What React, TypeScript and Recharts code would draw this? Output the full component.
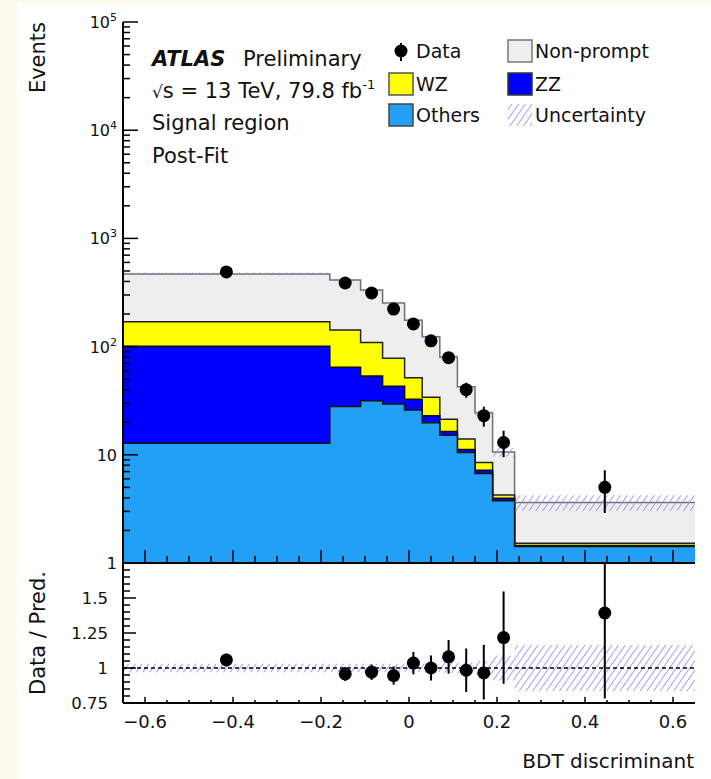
import React from 'react'
import { ComposedChart, Area, Scatter, ErrorBar, XAxis, YAxis, ReferenceLine, Legend } from 'recharts'

// BDT discriminant bin edges
const binEdges = [-0.65, -0.18, -0.11, -0.06, -0.01, 0.03, 0.07, 0.11, 0.15, 0.19, 0.24, 0.65]

// post-fit predictions per bin (events)
const others = [12.8, 28, 31.6, 29.5, 26, 19.8, 15.2, 10.5, 6.7, 3.77, 1.42]
const zz = [88, 36.5, 21.9, 13.5, 6.6, 3.2, 1.2, 0.7, 0.5, 0.19, 0.03]
const wz = [69, 77.5, 55.5, 35, 19, 11, 4.9, 2.8, 1.3, 0.3, 0.07]
const nonPrompt = [300, 270, 224, 175, 124, 89, 59, 28.5, 15.8, 6.35, 2.1]
// relative uncertainty on the total prediction
const uncRel = [0.03, 0.03, 0.03, 0.03, 0.03, 0.03, 0.035, 0.04, 0.05, 0.09, 0.165]

// observed data
const dataX = [-0.415, -0.145, -0.085, -0.035, 0.01, 0.05, 0.09, 0.13, 0.17, 0.215, 0.445]
const dataEvents = [490, 387, 313, 222, 162, 113, 79, 40, 23, 13, 5]
const dataErrDown = [22, 20, 18, 15, 13, 11, 9, 6.3, 4.8, 3.5, 2.1]
const dataErrUp = [22, 20, 18, 15, 13, 11, 9, 6.3, 4.8, 3.7, 2.2]

// data / prediction
const ratio = [1.058, 0.958, 0.97, 0.946, 1.035, 1.0, 1.08, 0.984, 0.965, 1.217, 1.393]
const ratioErrDown = [0.045, 0.05, 0.055, 0.065, 0.08, 0.09, 0.12, 0.155, 0.19, 0.33, 0.61]
const ratioErrUp = [0.045, 0.05, 0.055, 0.065, 0.08, 0.09, 0.12, 0.155, 0.2, 0.33, 0.357]

// axis ticks
const xMajorTicks = [-0.6, -0.4, -0.2, 0, 0.2, 0.4, 0.6]
const xTickLabels = ['−0.6', '−0.4', '−0.2', '0', '0.2', '0.4', '0.6']
const yMajorTicks = [1, 10, 100, 1000, 10000, 100000]
const yTickLabels = [['1', ''], ['10', ''], ['10', '2'], ['10', '3'], ['10', '4'], ['10', '5']]
const ratioMajorTicks = [0.75, 1, 1.25, 1.5]
const ratioTickLabels = ['0.75', '1', '1.25', '1.5']

const COLORS = {
  others: '#21a0f5',
  zz: '#0000ff',
  wz: '#ffff00',
  nonPrompt: '#eeeeee',
  hatch: '#8c8cf5',
}

const legendItems = [
  { name: 'Data', kind: 'marker' },
  { name: 'Non-prompt', kind: 'box', fill: COLORS.nonPrompt, stroke: '#777' },
  { name: 'WZ', kind: 'box', fill: COLORS.wz, stroke: '#555' },
  { name: 'ZZ', kind: 'box', fill: COLORS.zz, stroke: '#333' },
  { name: 'Others', kind: 'box', fill: COLORS.others, stroke: '#444' },
  { name: 'Uncertainty', kind: 'hatch' },
]

// minor ticks
const xAllTicks = Array.from({ length: 25 }, (_, i) => Math.round((-0.6 + i * 0.05) * 100) / 100)
const yAllTicks = [1, 10, 100, 1000, 10000].flatMap(d => [1, 2, 3, 4, 5, 6, 7, 8, 9].map(m => d * m)).concat([100000])
const ratioAllTicks = Array.from({ length: 20 }, (_, i) => Math.round((0.75 + i * 0.05) * 100) / 100)

// histogram rows: one per bin edge, last edge repeats last bin (stepAfter)
const stepRows = binEdges.map((x, i) => {
  const b = Math.min(i, others.length - 1)
  const o = others[b]
  const z = o + zz[b]
  const w = z + wz[b]
  const t = w + nonPrompt[b]
  return {
    x,
    others: o,
    zz: z,
    wz: w,
    total: t,
    band: [t * (1 - uncRel[b]), t * (1 + uncRel[b])],
    ratioBand: [1 - uncRel[b], 1 + uncRel[b]],
  }
})

const dataRows = dataX.map((x, i) => ({ x, y: dataEvents[i], err: [dataErrDown[i], dataErrUp[i]] }))
const ratioRows = dataX.map((x, i) => ({ x, y: ratio[i], err: [ratioErrDown[i], ratioErrUp[i]] }))

type Side = 'bottom' | 'top' | 'left' | 'right'
const near = (a: number, b: number) => Math.abs(a - b) < 1e-6 * Math.max(1, Math.abs(b))

// ROOT-style ticks drawn inside the frame, optional label outside
function frameTick(side: Side, majors: number[], majorLen: number, minorLen: number, label?: (i: number, x: number, y: number) => any) {
  return (props: any) => {
    const { x, y, payload } = props
    const idx = majors.findIndex(m => near(m, payload.value))
    const len = idx >= 0 ? majorLen : minorLen
    let x2 = x
    let y2 = y
    if (side === 'bottom') y2 = y - len
    if (side === 'top') y2 = y + len
    if (side === 'left') x2 = x + len
    if (side === 'right') x2 = x - len
    return (
      <g>
        <line x1={x} y1={y} x2={x2} y2={y2} stroke="#000" strokeWidth={1.5} />
        {idx >= 0 && label ? label(idx, x, y) : null}
      </g>
    )
  }
}

const axisBase = {
  type: 'number' as const,
  allowDataOverflow: true,
  interval: 0 as const,
  tickLine: false,
  tickSize: 0,
  tickMargin: 0,
  axisLine: { stroke: '#000', strokeWidth: 2 },
}

function Hatch({ id }: { id: string }) {
  return (
    <pattern id={id} patternUnits="userSpaceOnUse" width={5.5} height={5.5} patternTransform="rotate(35)">
      <line x1={0} y1={0} x2={0} y2={5.5} stroke={COLORS.hatch} strokeWidth={1.6} />
    </pattern>
  )
}

const dot = (p: any) => <circle cx={p.cx} cy={p.cy} r={6.5} fill="#000" />

function LegendBox() {
  const colX = [389, 508]
  const rowY = [40, 73, 104]
  return (
    <svg width={711} height={140} style={{ display: 'block' }}>
      <defs>
        <Hatch id="hatchLegend" />
      </defs>
      {legendItems.map((it, i) => {
        const bx = colX[i % 2]
        const by = rowY[Math.floor(i / 2)]
        return (
          <g key={it.name}>
            {it.kind === 'marker' && (
              <g>
                <line x1={bx + 12} y1={by + 3} x2={bx + 12} y2={by + 21} stroke="#000" strokeWidth={2} />
                <circle cx={bx + 12} cy={by + 11} r={6.5} fill="#000" />
              </g>
            )}
            {it.kind === 'box' && (
              <rect x={bx} y={by} width={24} height={22} fill={it.fill} stroke={it.stroke} strokeWidth={1.5} />
            )}
            {it.kind === 'hatch' && <rect x={bx} y={by} width={24} height={22} fill="url(#hatchLegend)" />}
            <text x={bx + 27} y={by + 18} fontSize={19} fill="#111">
              {it.name}
            </text>
          </g>
        )
      })}
    </svg>
  )
}

export default function App() {
  return (
    <div
      style={{
        position: 'absolute',
        left: 0,
        top: 0,
        width: 711,
        height: 779,
        background: '#fdfaec',
        fontFamily: '"DejaVu Sans", sans-serif',
        overflow: 'hidden',
      }}
    >
      <div style={{ position: 'absolute', left: 17, top: 3, width: 694, height: 776, background: '#fff' }} />

      {/* main panel */}
      <div style={{ position: 'absolute', left: 0, top: 0 }}>
        <ComposedChart width={711} height={600} data={stepRows} margin={{ top: 22, right: 16, bottom: 0, left: 0 }}>
          <defs>
            <Hatch id="hatchMain" />
          </defs>
          <XAxis
            {...axisBase}
            dataKey="x"
            domain={[-0.65, 0.65]}
            ticks={xAllTicks}
            height={37}
            tick={frameTick('bottom', xMajorTicks, 13, 7)}
          />
          <XAxis
            {...axisBase}
            xAxisId="top"
            orientation="top"
            dataKey="x"
            domain={[-0.65, 0.65]}
            ticks={xAllTicks}
            height={0}
            tick={frameTick('top', xMajorTicks, 13, 6)}
          />
          <YAxis
            {...axisBase}
            scale="log"
            domain={[1, 100000]}
            ticks={yAllTicks}
            width={123}
            tick={frameTick('left', yMajorTicks, 15, 7, (i, x, y) => (
              <text x={x - 6} y={y + 6} textAnchor="end" fontSize={16} fill="#111">
                {yTickLabels[i][0]}
                <tspan dy={-7} fontSize={11}>
                  {yTickLabels[i][1]}
                </tspan>
              </text>
            ))}
            label={{
              content: () => (
                <text transform="translate(45,22) rotate(-90)" textAnchor="end" fontSize={21} fill="#111">
                  Events
                </text>
              ),
            }}
          />
          <YAxis
            {...axisBase}
            yAxisId="right"
            orientation="right"
            scale="log"
            domain={[1, 100000]}
            ticks={yAllTicks}
            width={0}
            tick={frameTick('right', yMajorTicks, 16, 8)}
          />
          <Area dataKey="total" type="stepAfter" baseValue={1} fill={COLORS.nonPrompt} fillOpacity={1} stroke="#6f6f6f" strokeWidth={1.5} isAnimationActive={false} activeDot={false} />
          <Area dataKey="wz" type="stepAfter" baseValue={1} fill={COLORS.wz} fillOpacity={1} stroke="#222" strokeWidth={1.5} isAnimationActive={false} activeDot={false} />
          <Area dataKey="zz" type="stepAfter" baseValue={1} fill={COLORS.zz} fillOpacity={1} stroke="#111" strokeWidth={1.5} isAnimationActive={false} activeDot={false} />
          <Area dataKey="others" type="stepAfter" baseValue={1} fill={COLORS.others} fillOpacity={1} stroke="#111" strokeWidth={1.5} isAnimationActive={false} activeDot={false} />
          <Area dataKey="band" type="stepAfter" fill="url(#hatchMain)" fillOpacity={1} stroke="none" isAnimationActive={false} activeDot={false} />
          <Scatter data={dataRows} dataKey="y" shape={dot} isAnimationActive={false}>
            <ErrorBar dataKey="err" direction="y" width={0} stroke="#000" strokeWidth={2} />
          </Scatter>
          <Legend
            layout="horizontal"
            verticalAlign="middle"
            align="center"
            content={() => <LegendBox />}
            wrapperStyle={{ left: 0, top: 0, width: 711, height: 140 }}
          />
        </ComposedChart>
      </div>

      {/* ratio panel */}
      <div style={{ position: 'absolute', left: 0, top: 540 }}>
        <ComposedChart width={711} height={239} data={stepRows} margin={{ top: 23, right: 16, bottom: 0, left: 0 }}>
          <defs>
            <Hatch id="hatchRatio" />
          </defs>
          <XAxis
            {...axisBase}
            dataKey="x"
            domain={[-0.65, 0.65]}
            ticks={xAllTicks}
            height={76}
            tick={frameTick('bottom', xMajorTicks, 6, 3, (i, x, y) => (
              <text x={x} y={y + 25} textAnchor="middle" fontSize={18} fill="#111">
                {xTickLabels[i]}
              </text>
            ))}
            label={{
              content: () => (
                <text x={694} y={228} textAnchor="end" fontSize={20} fill="#111">
                  BDT discriminant
                </text>
              ),
            }}
          />
          <XAxis
            {...axisBase}
            xAxisId="top"
            orientation="top"
            dataKey="x"
            domain={[-0.65, 0.65]}
            ticks={xAllTicks}
            height={0}
            tick={frameTick('top', xMajorTicks, 6, 3)}
          />
          <YAxis
            {...axisBase}
            domain={[0.75, 1.75]}
            ticks={ratioAllTicks}
            width={123}
            tick={frameTick('left', ratioMajorTicks, 13, 7, (i, x, y) => (
              <text x={x - 15} y={y + 6} textAnchor="end" fontSize={16.5} fill="#111">
                {ratioTickLabels[i]}
              </text>
            ))}
            label={{
              content: () => (
                <text transform="translate(45,31) rotate(-90)" textAnchor="end" fontSize={21} fill="#111">
                  Data / Pred.
                </text>
              ),
            }}
          />
          <YAxis
            {...axisBase}
            yAxisId="right"
            orientation="right"
            domain={[0.75, 1.75]}
            ticks={ratioAllTicks}
            width={0}
            tick={frameTick('right', ratioMajorTicks, 13, 7)}
          />
          <Area dataKey="ratioBand" type="stepAfter" fill="url(#hatchRatio)" fillOpacity={1} stroke="none" isAnimationActive={false} activeDot={false} />
          <ReferenceLine y={1} stroke="#000" strokeWidth={1.5} strokeDasharray="4 3" />
          <Scatter data={ratioRows} dataKey="y" shape={dot} isAnimationActive={false}>
            <ErrorBar dataKey="err" direction="y" width={0} stroke="#000" strokeWidth={2} />
          </Scatter>
        </ComposedChart>
      </div>

      {/* ATLAS label */}
      <svg width={711} height={180} style={{ position: 'absolute', left: 0, top: 0, pointerEvents: 'none' }}>
        <text x={152} y={66} fontSize={21} fontWeight="bold" fontStyle="italic" fill="#111">
          ATLAS
        </text>
        <text x={243} y={66} fontSize={21} fill="#111">
          Preliminary
        </text>
        <text x={152} y={98} fontSize={21} fill="#111">
          <tspan fontSize={17}>√</tspan>s = 13 TeV, 79.8 fb
          <tspan dy={-9} fontSize={13}>-1</tspan>
        </text>
        <text x={152} y={130} fontSize={21} fill="#111">
          Signal region
        </text>
        <text x={152} y={163} fontSize={21} fill="#111">
          Post-Fit
        </text>
      </svg>
    </div>
  )
}
